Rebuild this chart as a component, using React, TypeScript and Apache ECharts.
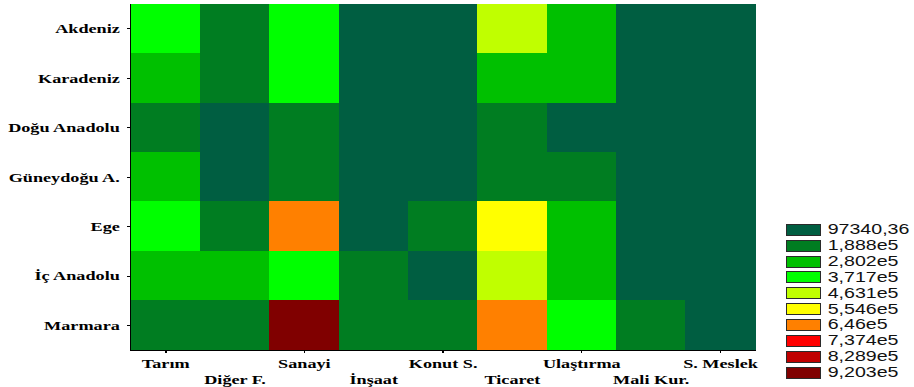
import React, { useEffect, useRef } from "react";
import * as echarts from "echarts";

// Sector columns and region rows
const sectors = ["Tarım", "Diğer F.", "Sanayi", "İnşaat", "Konut S.", "Ticaret", "Ulaştırma", "Mali Kur.", "S. Meslek"];
const regions = ["Akdeniz", "Karadeniz", "Doğu Anadolu", "Güneydoğu A.", "Ege", "İç Anadolu", "Marmara"];

// Values per region, in sector order
const akdeniz = [318000, 152000, 342000, 61000, 48000, 402000, 236000, 34000, 27000];
const karadeniz = [247000, 121000, 296000, 52000, 39000, 214000, 198000, 26000, 21000];
const doguAnadolu = [164000, 72000, 108000, 45000, 31000, 143000, 89000, 17000, 12000];
const guneydogu = [203000, 66000, 176000, 43000, 35000, 168000, 112000, 19000, 14000];
const ege = [336000, 169000, 612000, 78000, 104000, 527000, 259000, 52000, 38000];
const icAnadolu = [262000, 205000, 358000, 117000, 86000, 431000, 271000, 71000, 55000];
const marmara = [181000, 174000, 905000, 139000, 157000, 588000, 309000, 166000, 93000];
const regionValues = [akdeniz, karadeniz, doguAnadolu, guneydogu, ege, icAnadolu, marmara];

// Contour levels and their colours
const levelLabels = ["97340,36", "1,888e5", "2,802e5", "3,717e5", "4,631e5", "5,546e5", "6,46e5", "7,374e5", "8,289e5", "9,203e5"];
const levelValues = [97340.36, 188800, 280200, 371700, 463100, 554600, 646000, 737400, 828900, 920300];
const levelColors = ["#005E41", "#007D21", "#00C000", "#00FF00", "#C0FF00", "#FFFF00", "#FF8000", "#FF0000", "#C00000", "#800000"];

// The chart is laid out narrow and widened horizontally
const STRETCH = 1.4;
const PAGE_W = 914;
const PAGE_H = 387;
const CHART_W = PAGE_W / STRETCH;

const serifBold = {
  fontFamily: "'Liberation Serif', 'Times New Roman', serif",
  fontWeight: "bold" as const,
  fontSize: 13,
  color: "#000",
};

export default function App() {
  const ref = useRef<HTMLDivElement>(null);

  useEffect(() => {
    if (!ref.current) return;
    const chart = echarts.init(ref.current, null, { renderer: "svg" });

    const cells: number[][] = [];
    regionValues.forEach((row, r) => row.forEach((v, c) => cells.push([c, r, v])));

    const pieces = levelColors.map((color, i) => {
      if (i === 0) return { lte: levelValues[0], color };
      if (i === levelColors.length - 1) return { gt: levelValues[i - 1], color };
      return { gt: levelValues[i - 1], lte: levelValues[i], color };
    });

    const gridLeft = 131 / STRETCH;
    const gridRight = CHART_W - 755 / STRETCH;

    const minorX = (position: "top" | "bottom") => ({
      type: "value" as const,
      position,
      min: 0,
      max: sectors.length * 4,
      interval: 1,
      axisLine: { show: false },
      axisTick: { show: true, inside: true, length: 2, lineStyle: { color: "#000", width: 1 } },
      axisLabel: { show: false },
      splitLine: { show: false },
    });
    const minorY = (position: "left" | "right") => ({
      type: "value" as const,
      position,
      min: 0,
      max: regions.length * 4,
      interval: 1,
      axisLine: { show: false },
      axisTick: { show: true, inside: true, length: 1.5, lineStyle: { color: "#000", width: 1 } },
      axisLabel: { show: false },
      splitLine: { show: false },
    });

    chart.setOption({
      animation: false,
      grid: { left: gridLeft, right: gridRight, top: 4, bottom: 37, containLabel: false },
      xAxis: [
        {
          type: "category",
          data: sectors,
          position: "bottom",
          axisLine: { show: true, lineStyle: { color: "#000", width: 1 } },
          axisTick: { show: true, inside: true, alignWithLabel: true, length: 3, lineStyle: { color: "#000" } },
          axisLabel: {
            ...serifBold,
            margin: 5,
            lineHeight: 16,
            interval: 0,
            formatter: (v: string, i: number) => (i % 2 === 1 ? "\n" + v : v),
          },
          splitLine: { show: false },
        },
        {
          type: "category",
          data: sectors,
          position: "top",
          axisLine: { show: true, lineStyle: { color: "#000", width: 1 } },
          axisTick: { show: true, inside: true, alignWithLabel: true, length: 3, lineStyle: { color: "#000" } },
          axisLabel: { show: false },
          splitLine: { show: false },
        },
        minorX("bottom"),
        minorX("top"),
      ],
      yAxis: [
        {
          type: "category",
          data: regions,
          inverse: true,
          position: "left",
          axisLine: { show: true, lineStyle: { color: "#000", width: 1 } },
          axisTick: { show: true, inside: true, alignWithLabel: true, length: 2.5, lineStyle: { color: "#000" } },
          axisLabel: { ...serifBold, margin: 8, interval: 0 },
          splitLine: { show: false },
        },
        {
          type: "category",
          data: regions,
          inverse: true,
          position: "right",
          axisLine: { show: true, lineStyle: { color: "#000", width: 1 } },
          axisTick: { show: true, inside: true, alignWithLabel: true, length: 2.5, lineStyle: { color: "#000" } },
          axisLabel: { show: false },
          splitLine: { show: false },
        },
        minorY("left"),
        minorY("right"),
      ],
      visualMap: {
        type: "piecewise",
        show: false,
        dimension: 2,
        seriesIndex: 0,
        pieces,
      },
      legend: {
        orient: "vertical",
        left: 786 / STRETCH,
        top: 222.8,
        padding: 0,
        icon: "rect",
        itemWidth: 34 / STRETCH,
        itemHeight: 11,
        itemGap: 1.86,
        selectedMode: false,
        itemStyle: { borderColor: "#2a2a2a", borderWidth: 1, opacity: 1 },
        textStyle: {
          fontFamily: "'Liberation Sans', Arial, sans-serif",
          fontSize: 14,
          lineHeight: 14,
          color: "#111",
        },
        data: levelLabels,
      },
      series: [
        {
          type: "heatmap",
          xAxisIndex: 0,
          yAxisIndex: 0,
          data: cells,
          itemStyle: { borderWidth: 0 },
          emphasis: { disabled: true },
        },
        ...levelLabels.map((name, i) => ({
          type: "scatter",
          name,
          xAxisIndex: 0,
          yAxisIndex: 0,
          data: [],
          itemStyle: { color: levelColors[i], opacity: 1 },
        })),
      ],
    });

    return () => chart.dispose();
  }, []);

  return (
    <>
      <style>{`.heat-chart svg path { shape-rendering: crispEdges; }`}</style>
      <div
        ref={ref}
        className="heat-chart"
        style={{
          position: "fixed",
          left: 0,
          top: 0,
          width: CHART_W,
          height: PAGE_H,
          transform: `scaleX(${STRETCH})`,
          transformOrigin: "0 0",
          background: "#fff",
        }}
      />
    </>
  );
}
